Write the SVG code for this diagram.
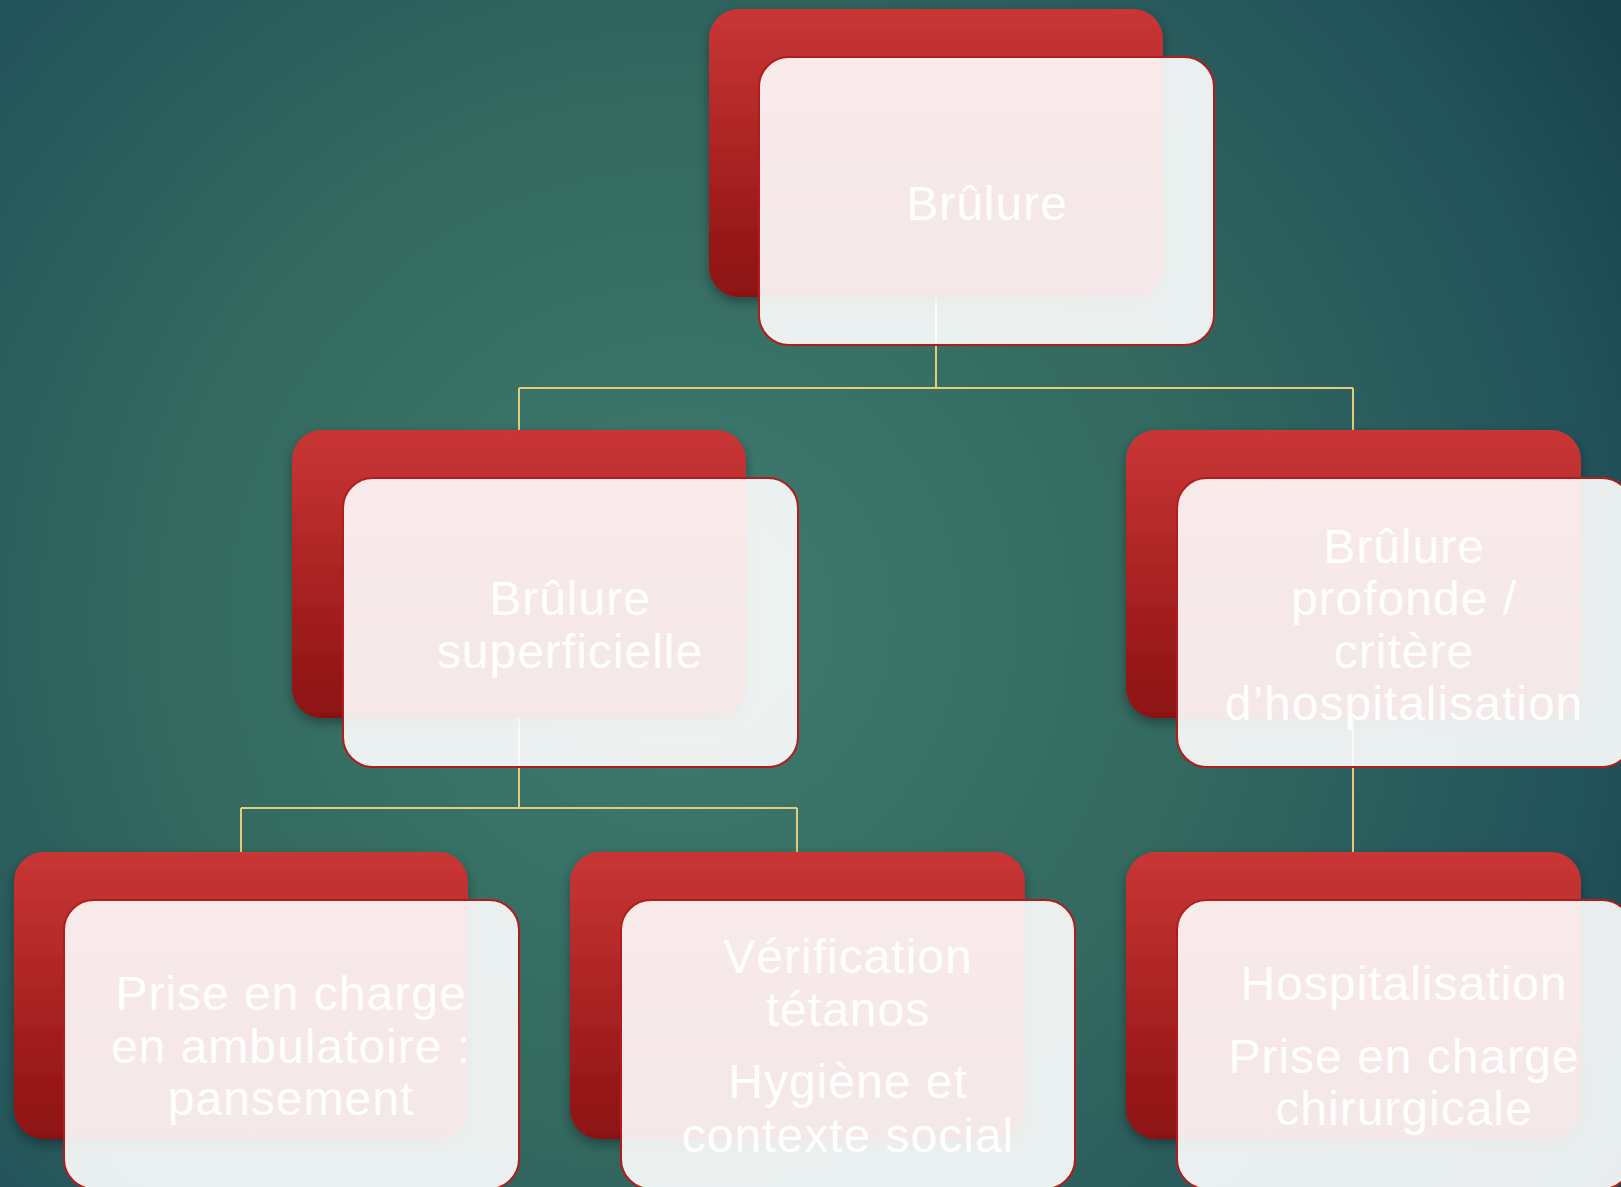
<svg xmlns="http://www.w3.org/2000/svg" width="1621" height="1187" viewBox="0 0 1621 1187">
  <defs>
    <radialGradient id="bg" gradientUnits="userSpaceOnUse" cx="680" cy="620" r="1150">
      <stop offset="0" stop-color="#3f7b70"/>
      <stop offset="0.45" stop-color="#33695f"/>
      <stop offset="0.8" stop-color="#22525a"/>
      <stop offset="1" stop-color="#173f48"/>
    </radialGradient>
    <linearGradient id="red" x1="0" y1="0" x2="0" y2="1">
      <stop offset="0" stop-color="#ca3636"/>
      <stop offset="1" stop-color="#8c1111"/>
    </linearGradient>
    <filter id="shadow" x="-10%" y="-10%" width="120%" height="130%">
      <feDropShadow dx="0" dy="5" stdDeviation="6" flood-color="#000" flood-opacity="0.35"/>
    </filter>
    <style>
      .back { fill: url(#red); filter: url(#shadow); }
      .front { fill: #ffffff; fill-opacity: 0.9; stroke: #b31c1c; stroke-width: 2; }
      .lbl { fill: #ffffff; font-family: "Liberation Sans", Arial, sans-serif; font-size: 48px; letter-spacing: 1px; text-anchor: middle; }
      .conn { stroke: #e3cd78; stroke-width: 2; fill: none; }
    </style>
  </defs>
  <rect x="0" y="0" width="1621" height="1187" fill="url(#bg)"/>

  <g id="connectors">
    <path class="conn" d="M936 297 V388 M519 388 H1353 M519 388 V430 M1353 388 V430"/>
    <path class="conn" d="M519 718 V808 M241 808 H797 M241 808 V852 M797 808 V852"/>
    <path class="conn" d="M1353 718 V852"/>
  </g>

  <g id="node-brulure">
    <rect class="back" x="709" y="9" width="454" height="288" rx="30"/>
    <rect class="front" x="759" y="57" width="455" height="288" rx="30"/>
    <text class="lbl" x="987" y="220">Brûlure</text>
  </g>

  <g id="node-superficielle">
    <rect class="back" x="292" y="430" width="454" height="288" rx="30"/>
    <rect class="front" x="343" y="478" width="455" height="289" rx="30"/>
    <text class="lbl" x="570" y="615">Brûlure</text>
    <text class="lbl" x="570" y="668">superficielle</text>
  </g>

  <g id="node-profonde">
    <rect class="back" x="1126" y="430" width="455" height="288" rx="30"/>
    <rect class="front" x="1177" y="478" width="455" height="289" rx="30"/>
    <text class="lbl" x="1404" y="563">Brûlure</text>
    <text class="lbl" x="1404" y="615">profonde /</text>
    <text class="lbl" x="1404" y="668">critère</text>
    <text class="lbl" x="1404" y="720">d’hospitalisation</text>
  </g>

  <g id="node-ambulatoire">
    <rect class="back" x="14" y="852" width="454" height="287" rx="30"/>
    <rect class="front" x="64" y="900" width="455" height="289" rx="30"/>
    <text class="lbl" x="291" y="1010">Prise en charge</text>
    <text class="lbl" x="291" y="1063">en ambulatoire :</text>
    <text class="lbl" x="291" y="1115">pansement</text>
  </g>

  <g id="node-tetanos">
    <rect class="back" x="570" y="852" width="455" height="287" rx="30"/>
    <rect class="front" x="621" y="900" width="454" height="289" rx="30"/>
    <text class="lbl" x="848" y="973">Vérification</text>
    <text class="lbl" x="848" y="1026">tétanos</text>
    <text class="lbl" x="848" y="1098">Hygiène et</text>
    <text class="lbl" x="848" y="1152">contexte social</text>
  </g>

  <g id="node-hospitalisation">
    <rect class="back" x="1126" y="852" width="455" height="287" rx="30"/>
    <rect class="front" x="1177" y="900" width="455" height="289" rx="30"/>
    <text class="lbl" x="1404" y="1000">Hospitalisation</text>
    <text class="lbl" x="1404" y="1073">Prise en charge</text>
    <text class="lbl" x="1404" y="1125">chirurgicale</text>
  </g>
</svg>
